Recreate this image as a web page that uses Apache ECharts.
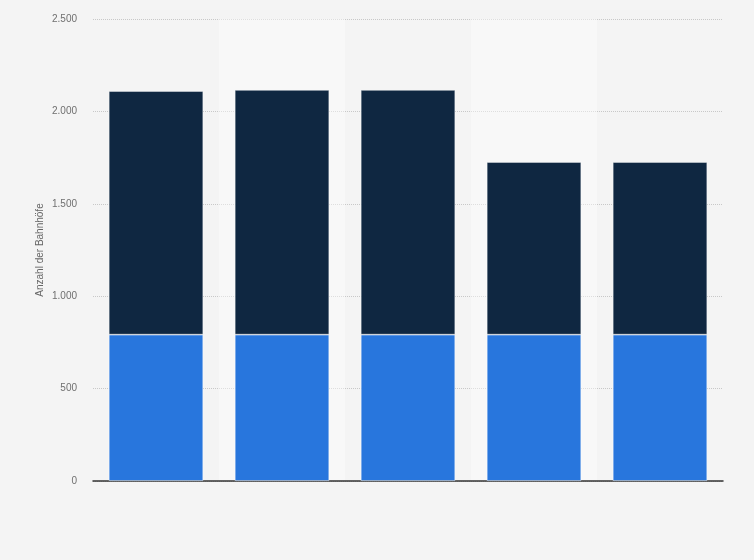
<!DOCTYPE html>
<html>
<head>
<meta charset="utf-8">
<script src="https://cdn.jsdelivr.net/npm/echarts@6/dist/echarts.min.js"></script>
<style>
  html, body { margin: 0; padding: 0; background: #f4f4f4; }
  #chart { width: 754px; height: 560px; }
</style>
</head>
<body>
<div id="chart"></div>
<script>
const categories = ["1", "2", "3", "4", "5"];
const lowerValues = [792, 792, 792, 792, 792];
const upperValues = [1318, 1324, 1324, 934, 934];
const yTicks = [0, 500, 1000, 1500, 2000, 2500];

function formatNum(v) {
  return String(v).replace(/\B(?=(\d{3})+(?!\d))/g, ".");
}

const chart = echarts.init(document.getElementById("chart"));

chart.setOption({
  backgroundColor: "#f4f4f4",
  animation: false,
  grid: {
    left: 93,
    right: 31,
    top: 19,
    bottom: 79
  },
  xAxis: {
    type: "category",
    data: categories,
    axisTick: { show: false },
    axisLabel: { show: false },
    axisLine: { lineStyle: { color: "#333", width: 1.5 } },
    splitArea: {
      show: true,
      areaStyle: { color: ["rgba(0,0,0,0)", "rgba(255,255,255,0.4)"] }
    }
  },
  yAxis: {
    type: "value",
    min: yTicks[0],
    max: yTicks[yTicks.length - 1],
    interval: 500,
    name: "Anzahl der Bahnhöfe",
    nameLocation: "middle",
    nameGap: 48,
    nameMoveOverlap: false,
    nameTextStyle: { color: "#666", fontSize: 10, fontFamily: "Liberation Sans" },
    axisLine: { show: false },
    axisTick: { show: false },
    axisLabel: {
      color: "#6f6f6f",
      fontSize: 10,
      fontFamily: "Liberation Sans",
      margin: 16,
      formatter: formatNum
    },
    splitLine: { lineStyle: { color: "#c8c8c8", type: [1, 1], width: 1 } }
  },
  series: [
    {
      type: "bar",
      stack: "total",
      data: lowerValues,
      barCategoryGap: "25%",
      itemStyle: {
        color: "#2876dd",
        borderColor: "rgba(255,255,255,0.6)",
        borderWidth: 0.8
      }
    },
    {
      type: "bar",
      stack: "total",
      data: upperValues,
      itemStyle: {
        color: "#0f2741",
        borderColor: "rgba(255,255,255,0.5)",
        borderWidth: 0.8
      }
    }
  ]
});
</script>
</body>
</html>
